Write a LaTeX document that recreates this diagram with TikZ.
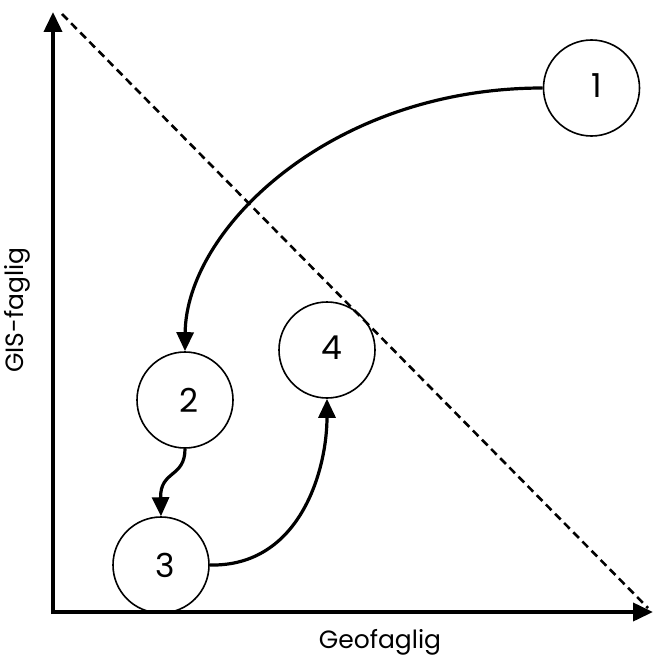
\documentclass[tikz,border=0pt]{standalone}
\usepackage{fontspec}
\setmainfont{Poppins}
\usetikzlibrary{arrows.meta}
\begin{document}
\begin{tikzpicture}[x=1pt,y=-1pt,
  axis/.style={line width=3.8pt,-{Triangle[length=20pt,width=18pt]}},
  conn/.style={line width=3.2pt,-{Triangle[length=19pt,width=17pt]}},
  stage/.style={circle,draw,line width=1.6pt,minimum size=96pt,inner sep=0pt,font=\fontsize{33}{35}\selectfont},
  diag/.style={line width=2.6pt,dash pattern=on 8pt off 5pt},
  lbl/.style={font=\fontsize{25}{27}\selectfont}]
\useasboundingbox (0,0) rectangle (653,661);
\coordinate (ytop) at (53,12);
\coordinate (xend) at (653,612);
\coordinate (d1) at (62,14);
\coordinate (d2) at (648,608);
\draw[diag] (d1) -- (d2);
\draw[axis] (53,614) -- (ytop);
\draw[axis] (51,612) -- (xend);
\node[stage] (n1) at (591.5,88) {\hspace*{10pt}\raisebox{5pt}{1}};
\node[stage] (n2) at (185,400) {\hspace*{8pt}\raisebox{-3pt}{2}};
\node[stage] (n3) at (161,565) {\hspace*{8pt}\raisebox{-3pt}{3}};
\node[stage] (n4) at (327,350) {\hspace*{10pt}\raisebox{4pt}{4}};
\draw[conn] (n1.west) .. controls (330,88) and (186,230) .. (n2.north);
\draw[conn] (n2.south) .. controls (185,478) and (160,470) .. (n3.north);
\draw[conn] (n3.east) .. controls (300,567) and (327,470) .. (n4.south);
\node[lbl,rotate=90] (ylab) at (17,310) {GIS-faglig};
\node[lbl] (xlab) at (380,642) {Geofaglig};
\end{tikzpicture}
\end{document}
